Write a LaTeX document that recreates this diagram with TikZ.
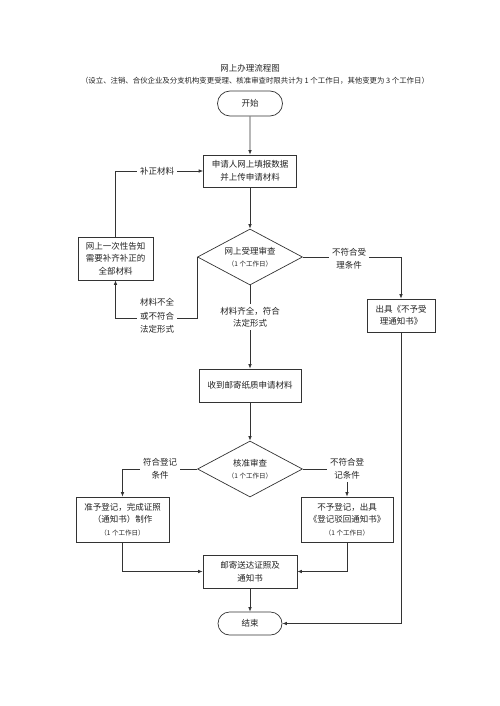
\documentclass[tikz,border=0pt]{standalone}
\usepackage{fontspec}
\setmainfont{Noto Sans CJK SC}
\usetikzlibrary{shapes.geometric,shapes.misc,arrows.meta}
\definecolor{lc}{HTML}{333333}
\definecolor{tc}{HTML}{222222}
\begin{document}
\begin{tikzpicture}[x=1pt,y=-1pt,
  every node/.style={text=tc, font=\fontsize{8.5}{12.5}\selectfont, align=center},
  box/.style={draw=lc, line width=0.7pt, fill=white, inner sep=1pt},
  term/.style={draw=lc, line width=0.7pt, fill=white, rounded rectangle, inner sep=1pt},
  dia/.style={draw=lc, line width=0.7pt, fill=white, diamond, aspect=1.9, inner sep=0pt, minimum width=105pt, minimum height=56pt},
  lab/.style={fill=white, inner sep=3pt},
  sm/.style={font=\fontsize{6.5}{9}\selectfont},
  conn/.style={draw=lc, line width=0.7pt},
  arr/.style={conn, -{Latex[length=4.5pt,width=3.5pt]}}
]
\useasboundingbox (0,0) rectangle (500,706);
\node (title) at (250,68) {网上办理流程图};
\node[font=\fontsize{7.4}{9}\selectfont] (sub) at (255,81) {（设立、注销、合伙企业及分支机构变更受理、核准审查时限共计为 1 个工作日，其他变更为 3 个工作日）};

\node[term, minimum width=67pt, minimum height=25pt] (start) at (250,103.5) {开始};
\node[box, minimum width=93pt, minimum height=32pt] (b1) at (250,171) {申请人网上填报数据\\并上传申请材料};
\node[dia] (d1) at (250,257) {网上受理审查\\[-1pt]{\fontsize{6.5}{9}\selectfont（1 个工作日）}};
\node[box, minimum width=75pt, minimum height=43pt] (lb) at (115.5,258.5) {网上一次性告知\\需要补齐补正的\\全部材料};
\node[box, minimum width=68pt, minimum height=33pt] (rb) at (401,315.5) {出具《不予受\\理通知书》};
\node[box, minimum width=102pt, minimum height=33pt] (b2) at (250,385.5) {收到邮寄纸质申请材料};
\node[dia] (d2) at (250,469) {核准审查\\[-1pt]{\fontsize{6.5}{9}\selectfont（1 个工作日）}};
\node[box, minimum width=93pt, minimum height=45pt] (lb2) at (122.5,519.5) {准予登记，完成证照\\（通知书）制作\\{\fontsize{6.5}{9}\selectfont（1 个工作日）}};
\node[box, minimum width=92pt, minimum height=45pt] (rb2) at (347,519.5) {不予登记，出具\\《登记驳回通知书》\\{\fontsize{6.5}{9}\selectfont（1 个工作日）}};
\node[box, minimum width=94pt, minimum height=33pt] (mail) at (250,571.5) {邮寄送达证照及\\通知书};
\node[term, minimum width=66pt, minimum height=23pt] (end) at (250,623.5) {结束};

% connectors
\draw[arr] (start) -- (b1);
\draw[arr] (b1) -- (d1);
\draw[arr] (d1.south) -- (b2.north);
\node[lab] (l1) at (250,317) {材料齐全，符合\\法定形式};
\draw[arr] (d1.west) -- ++(0,61) -| (lb.south);
\node[lab, font=\fontsize{8.5}{13.5}\selectfont] (l2) at (157,316) {材料不全\\或不符合\\法定形式};
\draw[arr] (lb.north) |- (b1.west);
\node[lab] (l3) at (157,171) {补正材料};
\draw[arr] (d1.east) -| (rb.north);
\node[lab] (l4) at (349,259) {不符合受\\理条件};
\draw[arr] (rb.south) |- (end.east);
\draw[arr] (b2) -- (d2);
\draw[arr] (d2.west) -| (lb2.north);
\node[lab] (l5) at (160,469) {符合登记\\条件};
\draw[arr] (d2.east) -| (rb2.north);
\node[lab] (l6) at (347,469) {不符合登\\记条件};
\draw[arr] (lb2.south) |- (mail.west);
\draw[arr] (rb2.south) |- (mail.east);
\draw[arr] (mail) -- (end);
\end{tikzpicture}
\end{document}
